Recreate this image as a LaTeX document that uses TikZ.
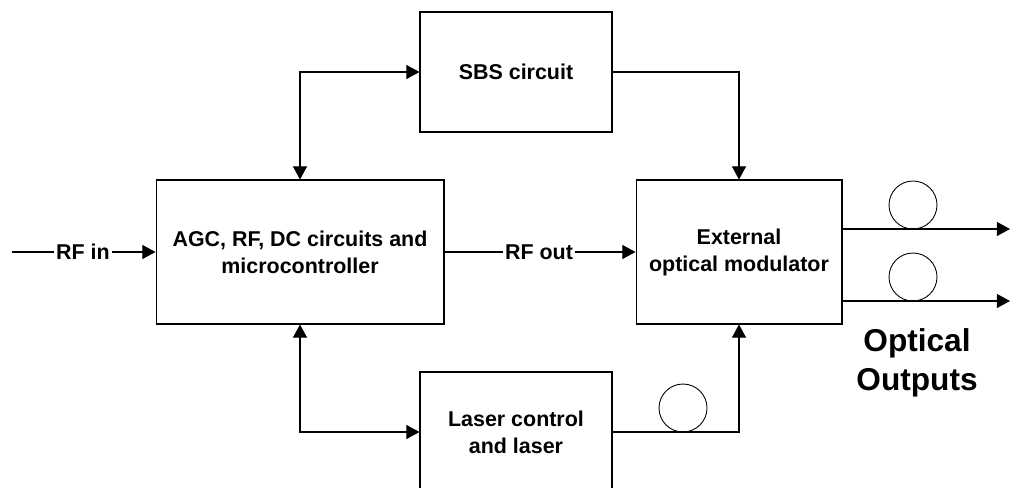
\documentclass[tikz,border=0pt]{standalone}
\usepackage{fontspec}
\setmainfont{Liberation Sans}
\usetikzlibrary{arrows.meta}
\begin{document}
\begin{tikzpicture}[x=0.02cm,y=-0.02cm,>={Triangle[length=7.5pt,width=8pt]},line width=0.6pt,
  box/.style={draw,align=center,font=\bfseries\fontsize{12.2}{15.4}\selectfont},
  lbl/.style={inner sep=1pt,font=\bfseries\fontsize{12.2}{14}\selectfont},
  fiber/.style={draw,circle,line width=0.5pt,minimum size=0.96cm,inner sep=0pt}]
\useasboundingbox (0,0) rectangle (1011,487);
\node[box,minimum width=5.76cm,minimum height=2.88cm] (agc) at (300,252) {AGC, RF, DC circuits and\\microcontroller};
\node[box,minimum width=4.12cm,minimum height=2.88cm] (eom) at (739,252) {External\\optical modulator};
\node[box,minimum width=3.84cm,minimum height=2.4cm] (sbs) at (516,72) {SBS circuit};
\node[box,minimum width=3.84cm,minimum height=2.4cm] (laser) at (516,432) {Laser control\\and laser};
\node[lbl] (rfin) at (83,252) {RF in};
\node[lbl] (rfout) at (539,252) {RF out};
\coordinate (src) at (12,252);
\coordinate (outA) at (1010,229);
\coordinate (outB) at (1010,301);
\draw (src) -- (rfin);
\draw[->] (rfin) -- (agc);
\draw (agc) -- (rfout);
\draw[->] (rfout) -- (eom);
\draw[<->] (agc.north) |- (sbs.west);
\draw[->] (sbs.east) -| (eom.north);
\draw[<->] (agc.south) |- (laser.west);
\draw[->] (laser.east) -| (eom.south);
\draw[->] (eom.east |- outA) -- (outA);
\draw[->] (eom.east |- outB) -- (outB);
\node[fiber] (fibA) at (913,205) {};
\node[fiber] (fibB) at (913,277) {};
\node[fiber] (fibC) at (683,408) {};
\node[align=center,font=\bfseries\fontsize{18}{22}\selectfont] (optout) at (917,363) {Optical\\Outputs};
\end{tikzpicture}
\end{document}
